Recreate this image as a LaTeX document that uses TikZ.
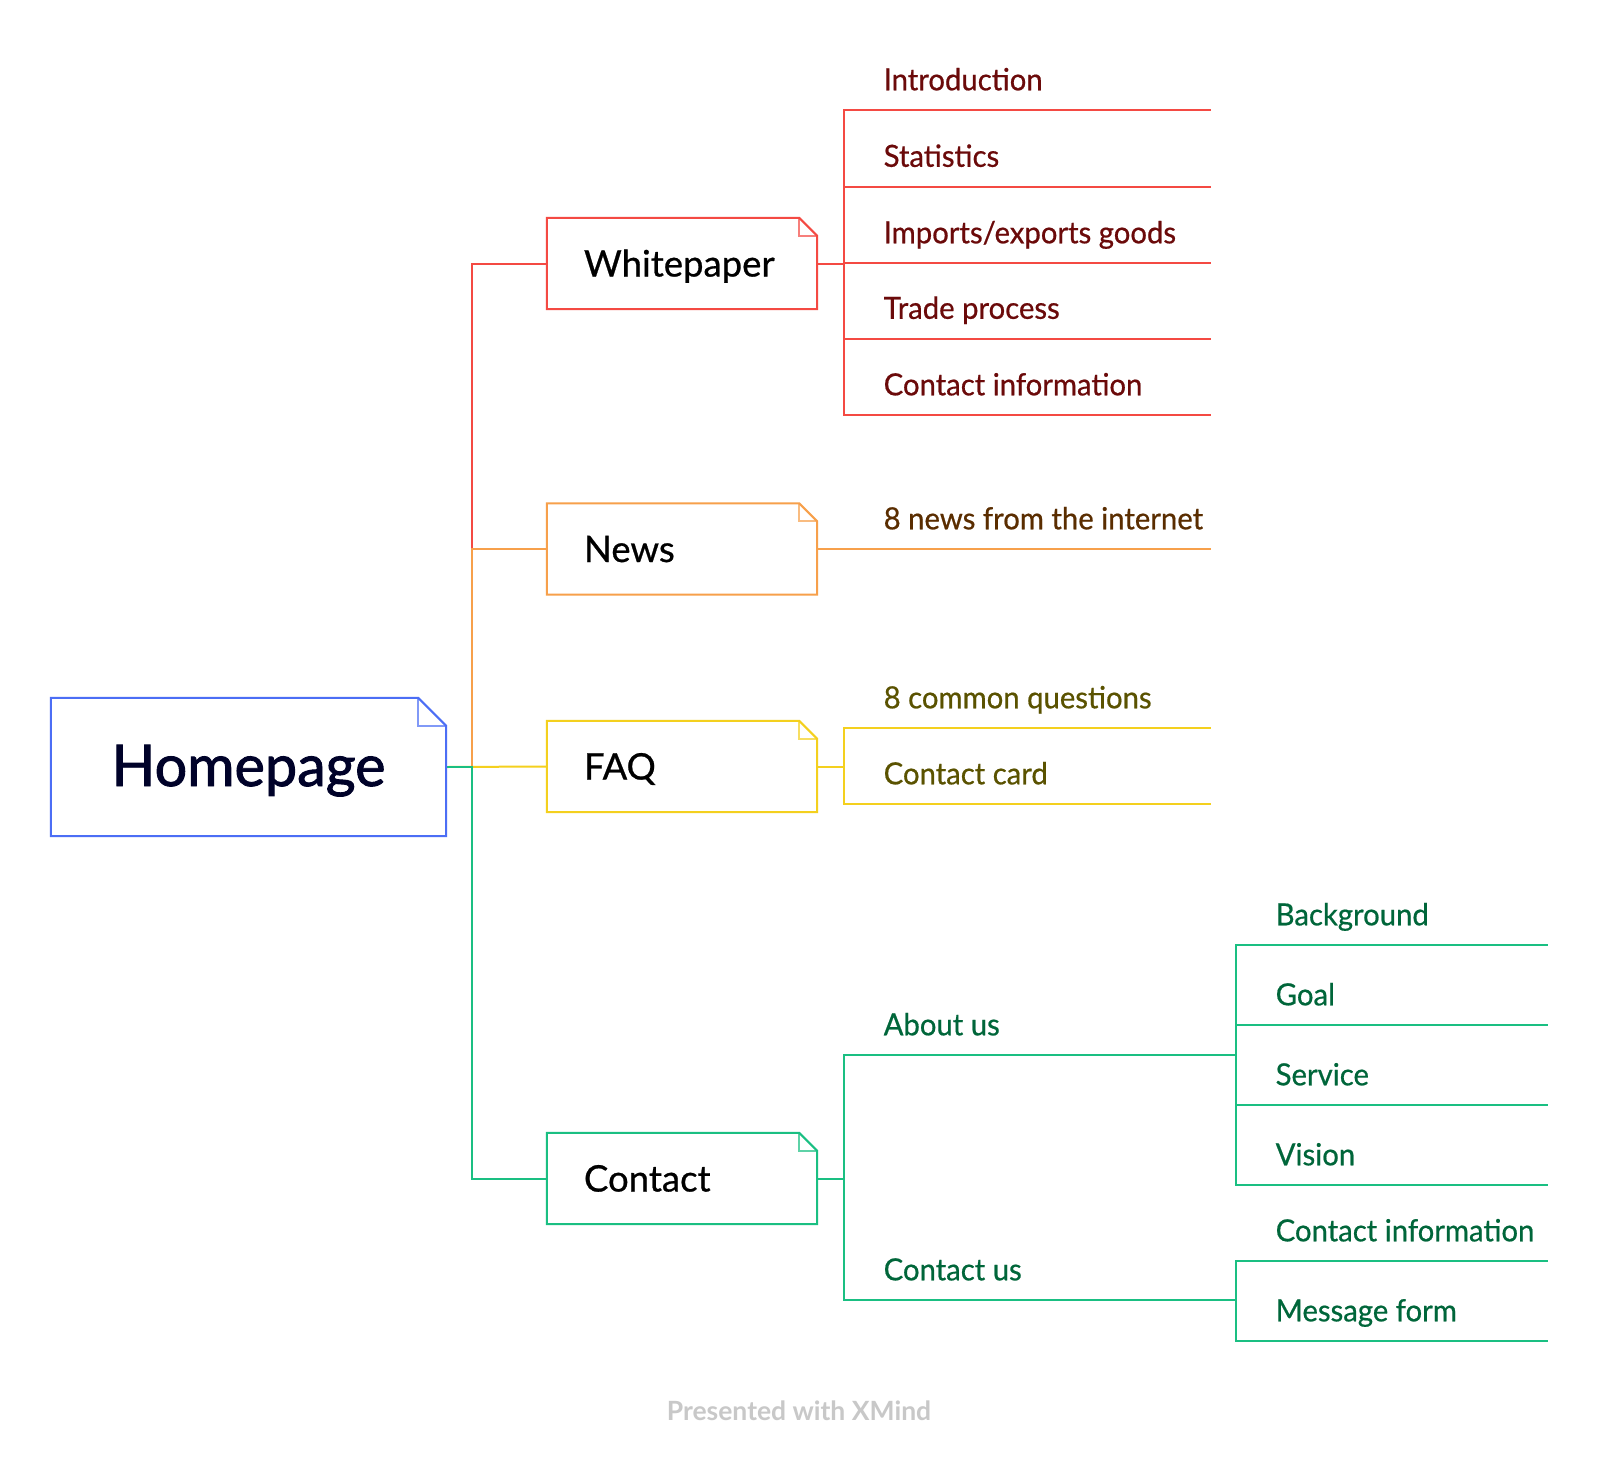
\documentclass[tikz,border=0pt]{standalone}
\usepackage{fontspec}
\setmainfont{Lato}
\newfontface\leaffont[FakeBold=0.6,FakeStretch=0.96]{Lato}
\newfontface\boxfont[FakeBold=0.7]{Lato}
\newfontface\homefont[FakeBold=1.6]{Lato}
\definecolor{hblue}{HTML}{4C6EF5}
\definecolor{htext}{HTML}{000229}
\definecolor{cred}{HTML}{F44A43}
\definecolor{tred}{HTML}{6B0A0A}
\definecolor{corange}{HTML}{F7A04B}
\definecolor{torange}{HTML}{5A2D00}
\definecolor{cyellow}{HTML}{F4D01E}
\definecolor{tyellow}{HTML}{5A5200}
\definecolor{cgreen}{HTML}{1ABF82}
\definecolor{tgreen}{HTML}{00663A}
\definecolor{wm}{HTML}{C8C8C8}
\newcommand\foldbox[3]{%
  \draw[line width=2pt,#3] (#1.north west) -- ([xshift=-#2]#1.north east) -- ([yshift=-#2]#1.north east) -- (#1.south east) -- (#1.south west) -- cycle;
  \draw[line width=2pt,#3,opacity=0.7] ([xshift=-#2]#1.north east) -- ([xshift=-#2,yshift=-#2]#1.north east) -- ([yshift=-#2]#1.north east);
}
\begin{document}
\begin{tikzpicture}[x=1pt,y=-1pt,
  conn/.style={line width=2pt},
  mainbox/.style={minimum width=395pt, minimum height=138pt, inner sep=0pt, text height=38pt, text depth=0pt, font=\homefont\fontsize{57.5}{60}\selectfont, text=htext},
  branchbox/.style={minimum width=270pt, minimum height=91pt, inner xsep=37pt, inner ysep=0pt, text width=196pt, align=left, text height=26pt, text depth=0pt, font=\boxfont\fontsize{36.5}{40}\selectfont},
  leaf/.style={anchor=south west, inner xsep=39.5pt, inner ysep=19.5pt, text height=22pt, text depth=0pt, font=\leaffont\fontsize{30.5}{32}\selectfont},
]
\useasboundingbox[fill=white] (0,0) rectangle (1598,1462);

% main and branch boxes
\node[mainbox] (home) at (248.5,767) {Homepage};
\node[branchbox] (wp) at (682,263.5) {Whitepaper};
\node[branchbox] (news) at (682,549) {News};
\node[branchbox] (faq) at (682,766.5) {FAQ};
\node[branchbox] (contact) at (682,1178.5) {Contact};

% helper coordinates
\coordinate (T) at (472,0);
\coordinate (J1) at (844,0);
\coordinate (J2) at (1236,0);
\coordinate (R1) at (1211,0);
\coordinate (R2) at (1548,0);

% leaves
\node[leaf, text=tred] (intro) at (844,110) {Introduction};
\node[leaf, text=tred] (stat) at (844,186.5) {Statistics};
\node[leaf, text=tred] (imp) at (844,263) {Imports/exports goods};
\node[leaf, text=tred] (trade) at (844,338.5) {Trade process};
\node[leaf, text=tred] (wpci) at (844,415) {Contact information};
\node[leaf, text=torange] (news8) at (844,549) {8 news from the internet};
\node[leaf, text=tyellow] (faq8) at (844,728) {8 common questions};
\node[leaf, text=tyellow] (card) at (844,804) {Contact card};
\node[leaf, text=tgreen] (about) at (844,1055) {About us};
\node[leaf, text=tgreen] (cus) at (844,1300) {Contact us};
\node[leaf, text=tgreen] (bg) at (1236,945) {Background};
\node[leaf, text=tgreen] (goal) at (1236,1025) {Goal};
\node[leaf, text=tgreen] (serv) at (1236,1105) {Service};
\node[leaf, text=tgreen] (vis) at (1236,1185) {Vision};
\node[leaf, text=tgreen] (cci) at (1236,1261) {Contact information};
\node[leaf, text=tgreen] (msg) at (1236,1341) {Message form};

% trunk connectors
\draw[conn,cred] (home.east) -- (home.east -| T) |- (wp.west);
\draw[conn,corange] (home.east) -- (home.east -| T) |- (news.west);
\draw[conn,cyellow] (home.east) -- (faq.west);
\draw[conn,cgreen] (home.east) -- (home.east -| T) |- (contact.west);

% sub connectors
\foreach \n in {intro,stat,imp,trade,wpci}
  \draw[conn,cred] (wp.east) -- (wp.east -| J1) |- (\n.south west) -- (\n.south west -| R1);
\draw[conn,corange] (news.east) -- (news8.south west) -- (news8.south west -| R1);
\foreach \n in {faq8,card}
  \draw[conn,cyellow] (faq.east) -- (faq.east -| J1) |- (\n.south west) -- (\n.south west -| R1);
\foreach \n in {about,cus}
  \draw[conn,cgreen] (contact.east) -- (contact.east -| J1) |- (\n.south west) -- (\n.south west -| J2);
\foreach \n in {bg,goal,serv,vis}
  \draw[conn,cgreen] (about.south west -| J2) |- (\n.south west) -- (\n.south west -| R2);
\foreach \n in {cci,msg}
  \draw[conn,cgreen] (cus.south west -| J2) |- (\n.south west) -- (\n.south west -| R2);

% box outlines
\foldbox{home}{28pt}{hblue}
\foldbox{wp}{18pt}{cred}
\foldbox{news}{18pt}{corange}
\foldbox{faq}{18pt}{cyellow}
\foldbox{contact}{18pt}{cgreen}

\node[text=wm, font=\bfseries\fontsize{26.5}{28}\selectfont] (wmk) at (799,1411) {Presented with XMind};
\end{tikzpicture}
\end{document}
